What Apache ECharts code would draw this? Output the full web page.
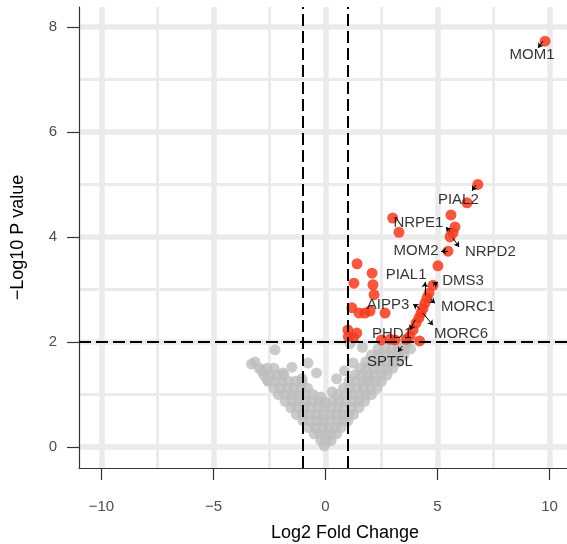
<!DOCTYPE html>
<html>
<head>
<meta charset="utf-8">
<script src="https://cdn.jsdelivr.net/npm/echarts@6/dist/echarts.min.js"></script>
<style>
  html, body { margin: 0; padding: 0; background: #fff; }
  #chart { width: 567px; height: 544px; }
</style>
</head>
<body>
<div id="chart"></div>
<script>
// Volcano plot: log2 fold change vs -log10 p value.

// non-significant genes, [log2FC, -log10 p]
var nsPoints = [
  [-0.05, 0.02],
  [-0.2, 0.12], [0.05, 0.12], [0.25, 0.12],
  [-0.5, 0.25], [-0.25, 0.25], [0.0, 0.25], [0.25, 0.25], [0.5, 0.25],
  [-0.75, 0.37], [-0.45, 0.37], [-0.15, 0.37], [0.15, 0.37], [0.45, 0.37], [0.7, 0.37],
  [-1.0, 0.5], [-0.7, 0.5], [-0.4, 0.5], [-0.1, 0.5], [0.2, 0.5], [0.5, 0.5], [0.8, 0.5], [1.0, 0.5],
  [-1.3, 0.62], [-1.0, 0.62], [-0.7, 0.62], [-0.4, 0.62], [-0.1, 0.62], [0.2, 0.62], [0.5, 0.62],
  [0.8, 0.62], [1.05, 0.62], [1.25, 0.62],
  [-1.55, 0.75], [-1.25, 0.75], [-0.95, 0.75], [-0.65, 0.75], [-0.35, 0.75], [-0.05, 0.75],
  [0.25, 0.75], [0.55, 0.75], [0.85, 0.75], [1.15, 0.75], [1.5, 0.75],
  [-1.8, 0.87], [-1.5, 0.87], [-1.2, 0.87], [-0.9, 0.87], [-0.6, 0.87], [-0.3, 0.87],
  [0.3, 0.87], [0.6, 0.87], [0.9, 0.87], [1.2, 0.87], [1.5, 0.87], [1.75, 0.87],
  [-2.1, 1.0], [-1.8, 1.0], [-1.5, 1.0], [-1.2, 1.0], [-0.9, 1.0], [-0.55, 1.0],
  [0.55, 1.0], [0.9, 1.0], [1.2, 1.0], [1.5, 1.0], [1.8, 1.0], [2.05, 1.0],
  [-2.3, 1.12], [-2.0, 1.12], [-1.7, 1.12], [-1.4, 1.12], [-1.1, 1.12], [-0.8, 1.12],
  [0.8, 1.12], [1.1, 1.12], [1.4, 1.12], [1.7, 1.12], [2.0, 1.12], [2.3, 1.12],
  [-2.55, 1.25], [-2.25, 1.25], [-1.95, 1.25], [-1.65, 1.25], [-1.35, 1.25], [-1.05, 1.25],
  [1.05, 1.25], [1.35, 1.25], [1.65, 1.25], [1.95, 1.25], [2.25, 1.25], [2.5, 1.25],
  [-2.75, 1.37], [-2.45, 1.37], [-2.15, 1.37], [-1.85, 1.37],
  [1.3, 1.37], [1.6, 1.37], [1.9, 1.37], [2.2, 1.37], [2.5, 1.37], [2.75, 1.37],
  [-2.95, 1.5], [-2.6, 1.5], [-2.3, 1.5],
  [1.55, 1.5], [1.85, 1.5], [2.15, 1.5], [2.45, 1.5], [2.75, 1.5], [3.0, 1.5],
  [-3.15, 1.62], [1.8, 1.62], [2.1, 1.62], [2.4, 1.62], [2.7, 1.62], [3.0, 1.62], [3.25, 1.62],
  [2.05, 1.75], [2.35, 1.75], [2.65, 1.75], [2.95, 1.75], [3.25, 1.75], [3.5, 1.75],
  [2.35, 1.87], [2.65, 1.87], [2.95, 1.87], [3.25, 1.87], [3.55, 1.87], [3.8, 1.87],
  [-2.25, 1.85], [-2.84, 1.45], [-1.9, 1.41], [-1.5, 1.52], [-0.78, 1.6], [-0.4, 1.41],
  [-2.6, 1.28], [-1.05, 1.3], [1.1, 1.97], [1.65, 1.9], [3.42, 1.94], [3.63, 1.97],
  [1.23, 1.6], [0.5, 1.3], [1.85, 1.28], [0.85, 1.45], [0.3, 1.05], [-0.2, 0.95],
  [0.0, 0.85], [-3.3, 1.58]
];

// significant genes
var sigPoints = [
  [9.8, 7.73], [6.8, 5.0], [6.32, 4.65], [5.6, 4.42], [5.78, 4.19], [5.69, 4.08],
  [5.56, 4.0], [5.47, 3.73], [5.02, 3.45], [4.8, 3.08],
  [3.0, 4.36], [3.28, 4.09], [1.41, 3.49], [2.08, 3.31], [1.27, 3.12], [2.12, 3.09],
  [2.17, 2.9], [1.18, 2.65], [1.5, 2.55], [1.76, 2.55], [1.99, 2.59], [2.66, 2.55],
  [1.0, 2.23], [1.02, 2.1], [1.25, 2.08], [2.88, 2.05], [1.4, 2.17], [2.5, 2.04],
  [3.1, 2.04], [3.77, 2.11], [3.91, 2.23], [4.04, 2.36], [4.17, 2.46], [4.26, 2.55],
  [4.35, 2.64], [4.44, 2.74], [4.53, 2.84], [4.62, 2.93], [4.2, 2.02], [3.6, 2.05]
];

// labelled genes: name, label centre, segment start (gene), segment end (label side)
var geneNames = ["MOM1", "PIAL2", "NRPE1", "NRPD2", "MOM2", "PIAL1",
                 "DMS3", "AIPP3", "MORC1", "PHD1", "MORC6", "SPT5L"];
var labelAt = [
  [9.22, 7.47], [5.93, 4.70], [4.15, 4.27], [7.36, 3.71], [4.04, 3.73], [3.6, 3.28],
  [6.14, 3.16], [2.79, 2.71], [6.36, 2.67], [2.97, 2.15], [6.05, 2.15], [2.88, 1.62]
];
var segFrom = [
  [9.71, 7.73], [6.72, 4.99], [5.56, 4.1], [5.69, 3.98], [5.47, 3.73], [4.44, 2.89],
  [4.8, 3.08], [4.2, 2.64], [4.67, 2.82], [4.0, 2.42], [4.35, 2.55], [3.42, 1.92]
];
var segTo = [
  [9.49, 7.6], [6.54, 4.88], [5.38, 4.19], [5.96, 3.81], [5.16, 3.73], [4.44, 3.14],
  [5.02, 3.14], [3.91, 2.72], [4.89, 2.74], [3.77, 2.23], [4.8, 2.32], [3.24, 1.81]
];

var xBreaks = [-10, -5, 0, 5, 10];
var xMinor = [-7.5, -2.5, 2.5, 7.5];
var yBreaks = [0, 2, 4, 6, 8];
var yMinor = [1, 3, 5, 7];
var fcCut = [-1, 1];
var pCut = 2;

var FONT = "'Liberation Sans', Arial, sans-serif";
var GRIDC = "#ebebeb";

function minus(v) { return v < 0 ? "\u2212" + Math.abs(v) : String(v); }

var gridLines = []
  .concat(xMinor.map(function (v) { return { xAxis: v, lineStyle: { width: 3 } }; }))
  .concat(yMinor.map(function (v) { return { yAxis: v, lineStyle: { width: 3 } }; }))
  .concat(xBreaks.map(function (v) { return { xAxis: v, lineStyle: { width: 5.5 } }; }))
  .concat(yBreaks.map(function (v) { return { yAxis: v, lineStyle: { width: 5.5 } }; }));

var cutLines = fcCut.map(function (v) { return { xAxis: v }; }).concat([{ yAxis: pCut }]);

var chart = echarts.init(document.getElementById("chart"), null, { renderer: "canvas" });

var axisCommon = {
  type: "value",
  axisLine: { show: true, onZero: false, lineStyle: { color: "#333", width: 1.2 } },
  axisTick: { show: true, length: 12, lineStyle: { color: "#333", width: 1.2 } },
  splitLine: { show: false },
  nameLocation: "middle",
  nameTextStyle: { color: "#000", fontSize: 18, fontFamily: FONT }
};

chart.setOption({
  animation: false,
  grid: { left: 79, right: 0, top: 7, bottom: 76, containLabel: false, outerBoundsMode: "none" },
  xAxis: Object.assign({}, axisCommon, {
    min: -11, max: 10.78,
    name: "Log2 Fold Change", nameGap: 56,
    // the original panel runs past the right edge, so the title sits right of centre
    nameTextStyle: Object.assign({}, axisCommon.nameTextStyle, { padding: [0, 0, 0, 44] }),
    axisTick: Object.assign({}, axisCommon.axisTick, { customValues: xBreaks }),
    axisLabel: { customValues: xBreaks, formatter: minus, color: "#4d4d4d",
                 fontSize: 15, fontFamily: FONT, margin: 31 }
  }),
  yAxis: Object.assign({}, axisCommon, {
    min: -0.4, max: 8.38,
    name: "\u2212Log10 P value", nameGap: 52,
    axisTick: Object.assign({}, axisCommon.axisTick, { customValues: yBreaks }),
    axisLabel: { customValues: yBreaks, formatter: minus, color: "#4d4d4d",
                 fontSize: 15, fontFamily: FONT, margin: 22 }
  }),
  series: [
    {
      type: "line", data: [], z: 0, silent: true,
      markLine: {
        z: 0, silent: true, symbol: ["none", "none"], label: { show: false },
        lineStyle: { color: GRIDC, type: "solid" },
        emphasis: { disabled: true },
        data: gridLines
      }
    },
    {
      name: "ns", type: "scatter", z: 2, symbolSize: 11,
      itemStyle: { color: "#bebebe" },
      data: nsPoints
    },
    {
      name: "sig", type: "scatter", z: 3, symbolSize: 11,
      itemStyle: { color: "rgb(245,60,30)", opacity: 0.85 },
      data: sigPoints
    },
    {
      type: "line", data: [], z: 4, silent: true,
      markLine: {
        z: 4, silent: true, symbol: ["none", "none"], label: { show: false },
        lineStyle: { color: "#000", type: [12, 5], width: 2 },
        emphasis: { disabled: true },
        data: cutLines
      }
    },
    {
      type: "lines", coordinateSystem: "cartesian2d", z: 5, silent: true,
      symbol: ["none", "arrow"], symbolSize: 5,
      lineStyle: { color: "#000", width: 1, opacity: 1 },
      data: segFrom.map(function (p, i) { return { coords: [p, segTo[i]] }; })
    },
    {
      type: "scatter", z: 6, silent: true, symbolSize: 1,
      itemStyle: { color: "rgba(0,0,0,0)" },
      label: {
        show: true, position: "inside", color: "#000", fontSize: 15, fontFamily: FONT,
        formatter: function (p) { return p.name; }
      },
      data: geneNames.map(function (n, i) { return { name: n, value: labelAt[i] }; })
    }
  ]
});
</script>
</body>
</html>
